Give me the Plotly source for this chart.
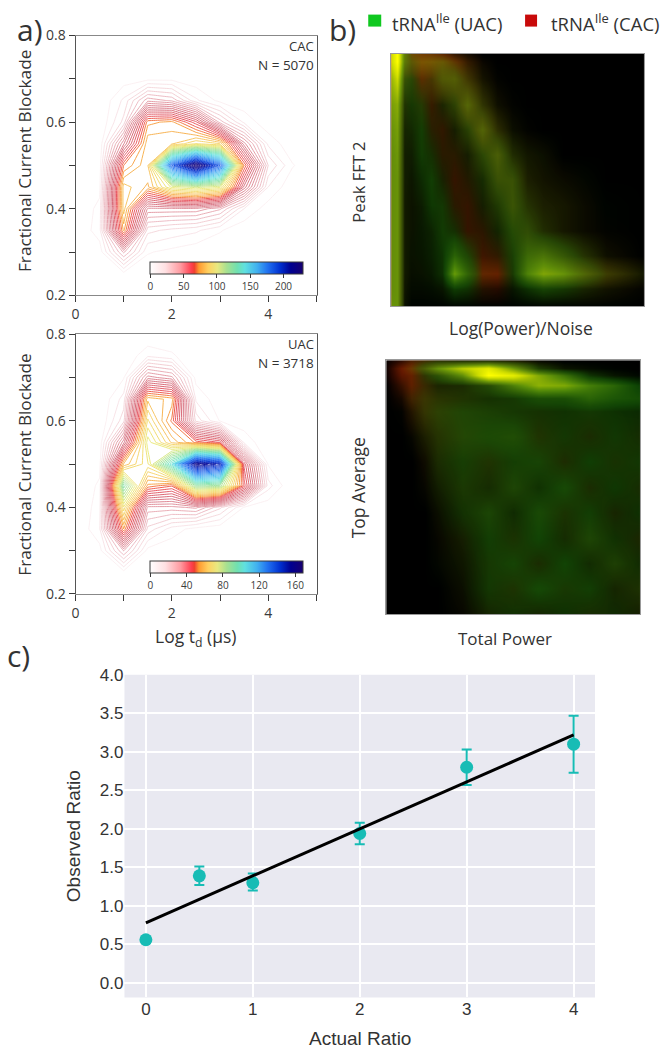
import plotly.graph_objects as go

W, H = 667, 1050

# ---------- panel a: 2D event histograms ----------
log_td = [0, 0.5, 1, 1.5, 2, 2.5, 3, 3.5, 4, 4.5, 5]
blockade = [0.2, 0.25, 0.3, 0.35, 0.4, 0.45, 0.5, 0.55, 0.6, 0.65, 0.7, 0.75, 0.8]
counts_cac = [
    [0, 0, 0, 0, 0, 0, 0, 0, 0, 0, 0],
    [0, 0, 3, 0.5, 0, 0, 0, 0, 0, 0, 0],
    [0, 2, 28, 5, 3, 1, 0.5, 0, 0, 0, 0],
    [0, 7, 78, 15, 12, 10, 5, 1, 0, 0, 0],
    [0, 6, 88, 35, 35, 35, 28, 9, 2, 0, 0],
    [0, 3, 88, 80, 105, 110, 105, 48, 9, 1, 0],
    [0, 2, 72, 85, 185, 228, 185, 72, 18, 5, 0],
    [0, 1, 40, 85, 85, 95, 90, 38, 8, 1, 0],
    [0, 0, 15, 75, 78, 60, 25, 8, 1, 0, 0],
    [0, 0, 10, 30, 26, 10, 3, 1, 0, 0, 0],
    [0, 0, 2, 3, 3, 1, 0, 0, 0, 0, 0],
    [0, 0, 0, 0, 0, 0, 0, 0, 0, 0, 0],
    [0, 0, 0, 0, 0, 0, 0, 0, 0, 0, 0],
]
counts_uac = [
    [0, 0, 0, 0, 0, 0, 0, 0, 0, 0, 0],
    [0, 0, 2, 0, 0, 0, 0, 0, 0, 0, 0],
    [0, 2, 20, 2, 1, 0, 0, 0, 0, 0, 0],
    [0, 6, 56, 12, 5, 2, 1, 0, 0, 0, 0],
    [0, 5, 72, 22, 22, 24, 14, 3, 1, 0, 0],
    [0, 4, 95, 55, 50, 90, 88, 48, 8, 0, 0],
    [0, 2, 60, 72, 105, 160, 150, 42, 3, 0, 0],
    [0, 1, 32, 78, 62, 52, 46, 6, 0, 0, 0],
    [0, 0, 12, 70, 52, 12, 3, 1, 0, 0, 0],
    [0, 0, 8, 62, 58, 6, 1, 0, 0, 0, 0],
    [0, 0, 3, 28, 24, 2, 0, 0, 0, 0, 0],
    [0, 0, 0, 6, 4, 0, 0, 0, 0, 0, 0],
    [0, 0, 0, 0, 0, 0, 0, 0, 0, 0, 0],
]
cbar_ticks_cac = [0, 50, 100, 150, 200]
cbar_ticks_uac = [0, 40, 80, 120, 160]

# ---------- panel b: red / green intensity maps ----------
b1_u = [0, .025, .05, .08, .12, .16, .2, .25, .3, .36, .42, .48, .54, .6, .68, .76, .85, 1]
b1_v = [0, .03, .1, .2, .3, .4, .5, .6, .7, .8, .87, .93, 1]
b1_green = [
    [80, 100, 40, 14, 10, 10, 8, 5, 3, 0, 0, 0, 0, 0, 0, 0, 0, 0],
    [80, 100, 38, 20, 14, 16, 18, 12, 6, 2, 0, 0, 0, 0, 0, 0, 0, 0],
    [65, 80, 25, 20, 10, 14, 24, 26, 14, 5, 1, 0, 0, 0, 0, 0, 0, 0],
    [55, 60, 14, 16, 16, 6, 10, 18, 30, 14, 4, 1, 0, 0, 0, 0, 0, 0],
    [50, 55, 10, 11, 18, 8, 5, 8, 18, 30, 12, 4, 1, 0, 0, 0, 0, 0],
    [48, 52, 8, 8, 17, 13, 6, 6, 8, 20, 30, 12, 6, 4, 0, 0, 0, 0],
    [48, 50, 8, 6, 12, 18, 9, 4, 6, 12, 24, 24, 8, 5, 3, 2, 0, 0],
    [48, 50, 7, 5, 8, 16, 16, 6, 4, 8, 16, 26, 14, 8, 6, 3, 1, 0],
    [48, 50, 7, 5, 7, 10, 17, 13, 4, 5, 10, 22, 22, 12, 6, 3, 1, 0],
    [48, 50, 7, 5, 6, 9, 15, 34, 20, 4, 6, 18, 36, 40, 28, 14, 4, 0],
    [48, 50, 7, 4, 5, 7, 14, 56, 34, 8, 6, 16, 46, 60, 52, 34, 16, 6],
    [48, 50, 6, 3, 3, 4, 6, 18, 14, 4, 2, 6, 14, 20, 16, 10, 5, 1],
    [50, 50, 5, 1, 1, 1, 1, 1, 1, 1, 1, 1, 1, 1, 1, 1, 1, 0],
]
b1_red = [
    [80, 95, 55, 50, 45, 40, 30, 15, 6, 0, 0, 0, 0, 0, 0, 0, 0, 0],
    [80, 95, 50, 50, 60, 60, 55, 35, 15, 3, 0, 0, 0, 0, 0, 0, 0, 0],
    [65, 75, 20, 15, 30, 25, 40, 42, 22, 6, 1, 0, 0, 0, 0, 0, 0, 0],
    [52, 58, 10, 6, 12, 16, 8, 16, 44, 16, 4, 1, 0, 0, 0, 0, 0, 0],
    [48, 52, 6, 5, 5, 12, 14, 6, 14, 40, 14, 3, 1, 0, 0, 0, 0, 0],
    [46, 50, 5, 4, 4, 6, 12, 12, 6, 16, 30, 10, 5, 3, 0, 0, 0, 0],
    [46, 50, 5, 3, 3, 4, 7, 15, 10, 6, 22, 22, 8, 5, 3, 1, 0, 0],
    [46, 50, 5, 3, 3, 3, 5, 12, 15, 6, 10, 22, 12, 8, 6, 3, 0, 0],
    [46, 50, 5, 3, 2, 3, 4, 6, 15, 12, 5, 12, 18, 10, 6, 3, 1, 0],
    [46, 50, 5, 2, 2, 2, 3, 5, 10, 18, 14, 8, 16, 22, 18, 12, 4, 0],
    [46, 50, 5, 2, 2, 2, 3, 6, 10, 30, 30, 8, 14, 28, 34, 34, 22, 5],
    [46, 50, 4, 1, 1, 1, 2, 3, 4, 10, 10, 2, 3, 6, 6, 7, 5, 1],
    [48, 50, 3, 0, 0, 0, 0, 0, 0, 0, 0, 0, 0, 0, 0, 0, 0, 0],
]
b2_u = [0, .06, .1, .15, .2, .3, .4, .5, .6, .7, .8, .9, 1]
b2_v = [0, .03, .06, .1, .15, .2, .3, .4, .5, .6, .7, .8, .9, 1]
b2_green = [
    [0, 2, 6, 10, 12, 10, 10, 6, 2, 0, 0, 0, 0],
    [0, 4, 10, 30, 50, 75, 90, 55, 18, 6, 3, 1, 0],
    [0, 3, 6, 14, 25, 50, 100, 90, 62, 40, 15, 6, 2],
    [0, 3, 6, 10, 10, 12, 22, 45, 65, 62, 45, 35, 18],
    [0, 2, 8, 14, 14, 14, 14, 16, 24, 25, 34, 28, 24],
    [0, 1, 5, 14, 18, 20, 18, 16, 14, 14, 16, 14, 12],
    [0, 0, 2, 8, 14, 20, 22, 24, 14, 16, 12, 16, 12],
    [0, 0, 0, 3, 12, 18, 14, 18, 20, 12, 18, 14, 16],
    [0, 0, 0, 2, 8, 16, 12, 20, 14, 22, 12, 16, 12],
    [0, 0, 0, 0, 4, 14, 20, 12, 22, 14, 18, 10, 14],
    [0, 0, 0, 0, 2, 8, 18, 14, 20, 12, 20, 14, 10],
    [0, 0, 0, 0, 2, 6, 16, 20, 12, 20, 12, 18, 12],
    [0, 0, 0, 0, 0, 4, 16, 14, 22, 16, 18, 10, 14],
    [0, 0, 0, 0, 0, 2, 10, 14, 10, 14, 12, 12, 8],
]
b2_red = [
    [2, 12, 22, 20, 14, 10, 10, 8, 2, 0, 0, 0, 0],
    [4, 30, 40, 30, 40, 55, 70, 40, 10, 3, 1, 0, 0],
    [3, 25, 30, 16, 14, 25, 70, 55, 25, 10, 4, 2, 0],
    [0, 15, 28, 18, 8, 8, 12, 16, 14, 8, 6, 3, 1],
    [0, 6, 20, 20, 14, 10, 6, 6, 5, 4, 4, 2, 2],
    [0, 1, 10, 18, 16, 10, 8, 6, 6, 4, 5, 3, 2],
    [0, 0, 2, 8, 12, 12, 7, 8, 10, 5, 8, 4, 6],
    [0, 0, 0, 4, 8, 6, 10, 5, 6, 9, 3, 7, 4],
    [0, 0, 0, 2, 5, 8, 6, 9, 4, 5, 8, 3, 7],
    [0, 0, 0, 0, 3, 5, 8, 4, 6, 8, 4, 7, 3],
    [0, 0, 0, 0, 2, 6, 4, 8, 3, 6, 9, 4, 8],
    [0, 0, 0, 0, 1, 4, 6, 5, 8, 3, 5, 9, 4],
    [0, 0, 0, 0, 0, 3, 5, 9, 4, 7, 4, 6, 9],
    [0, 0, 0, 0, 0, 2, 6, 4, 6, 3, 7, 4, 6],
]

# ---------- panel c: observed vs actual ratio ----------
actual = [0, 0.5, 1, 2, 3, 4]
observed = [0.56, 1.39, 1.30, 1.94, 2.80, 3.10]
err_up = [0.04, 0.12, 0.12, 0.14, 0.23, 0.37]
err_down = [0.04, 0.12, 0.10, 0.14, 0.23, 0.37]
fit_x = [0, 4]
fit_y = [0.78, 3.22]

# ---------- styling ----------
INK = "#3a3a3a"
SANS = "Open Sans"
RAINBOW = [
    [0.00, "#ffffff"], [0.10, "#ffe0e2"], [0.20, "#ff9aa0"], [0.27, "#ff4050"],
    [0.29, "#f04030"], [0.32, "#ff9a30"], [0.38, "#ffd060"], [0.44, "#e8e880"],
    [0.50, "#a8e090"], [0.57, "#70e0b0"], [0.62, "#60e0e0"], [0.70, "#40b0f0"],
    [0.77, "#2070f0"], [0.85, "#0030d0"], [0.92, "#000090"], [1.00, "#180070"],
]
LINE_SCALE = [
    [0.00, "#fbeef0"], [0.06, "#f0c8ce"], [0.13, "#de8a96"], [0.20, "#d25a6a"],
    [0.27, "#e8404a"], [0.29, "#f05030"], [0.32, "#f79a35"], [0.38, "#f5d060"],
    [0.44, "#e8e870"], [0.50, "#a8e090"], [0.57, "#70e0b0"], [0.62, "#60e0e0"],
    [0.70, "#40b0f0"], [0.77, "#2070f0"], [0.85, "#0030d0"], [0.92, "#000090"],
    [1.00, "#180070"],
]
RED_SCALE = [[0, "rgb(0,0,0)"], [0.3, "rgb(115,15,0)"], [1, "rgb(255,110,0)"]]
GREEN_SCALE = [
    [0, "rgba(10,150,0,0)"], [0.2, "rgba(25,140,10,0.48)"],
    [0.5, "rgba(95,165,10,0.85)"], [0.8, "rgba(205,225,0,0.97)"],
    [1, "rgb(255,255,0)"],
]


def fx(px):
    return (px - 3.4) / 0.995 / W


def fy(px):
    return 1 - (px - 9.4) / 0.983 / H


fig = go.Figure()


def add_hist(z, n, cmax, step, ticks, cb_top):
    fig.add_trace(go.Contour(
        x=log_td, y=blockade, z=z, xaxis=f"x{n}", yaxis=f"y{n}",
        zmin=0, zmax=cmax, colorscale=LINE_SCALE, showscale=False,
        autocontour=False, contours=dict(start=step, end=cmax, size=step, coloring="lines"),
        line=dict(width=0.9, smoothing=0), hoverinfo="skip", showlegend=False,
    ))
    fig.add_trace(go.Scatter(
        x=[None], y=[None], xaxis=f"x{n}", yaxis=f"y{n}", mode="markers", showlegend=False,
        marker=dict(
            color=[0, cmax], cmin=0, cmax=cmax, colorscale=RAINBOW, showscale=True,
            colorbar=dict(
                orientation="h", xref="paper", yref="paper", x=fx(150), xanchor="left",
                y=fy(cb_top), yanchor="top", len=153, lenmode="pixels",
                thickness=12, thicknessmode="pixels", xpad=0, ypad=0,
                tickvals=ticks, ticks="outside", ticklen=4, tickcolor=INK,
                outlinecolor=INK, outlinewidth=1, borderwidth=0,
                tickfont=dict(family=SANS, size=10, color=INK),
            ),
        ),
    ))


add_hist(counts_cac, 1, 230, 4.5, cbar_ticks_cac, 262)
add_hist(counts_uac, 2, 169, 3.3, cbar_ticks_uac, 561)


def add_map(u, v, red, green, n):
    common = dict(x=u, y=v, xaxis=f"x{n}", yaxis=f"y{n}", zmin=0, zmax=100,
                  zsmooth="best", showscale=False, hoverinfo="skip")
    fig.add_trace(go.Heatmap(z=red, colorscale=RED_SCALE, **common))
    fig.add_trace(go.Heatmap(z=green, colorscale=GREEN_SCALE, **common))


add_map(b1_u, b1_v, b1_red, b1_green, 3)
add_map(b2_u, b2_v, b2_red, b2_green, 4)

fig.add_trace(go.Scatter(
    x=actual, y=observed, xaxis="x5", yaxis="y5", mode="markers", showlegend=False,
    marker=dict(size=13, color="#17bcb5"),
    error_y=dict(type="data", symmetric=False, array=err_up, arrayminus=err_down,
                 color="#17bcb5", thickness=2, width=5),
))
fig.add_trace(go.Scatter(
    x=fit_x, y=fit_y, xaxis="x5", yaxis="y5", mode="lines", showlegend=False,
    line=dict(color="black", width=3),
))


def a_xaxis(domain):
    return dict(domain=domain, range=[0, 5.02], tickvals=[0, 2, 4], ticks="outside", ticklen=6,
                tickcolor=INK, minor=dict(tickvals=[1, 3, 5], ticks="outside", ticklen=6, tickcolor=INK),
                showgrid=False, zeroline=False, showline=True, linecolor="#888", mirror=True,
                linewidth=1, tickfont=dict(family=SANS, size=14, color=INK))


def a_yaxis(domain):
    return dict(domain=domain, range=[0.2, 0.8], tickvals=[.2, .4, .6, .8], tickformat=".1f",
                ticks="outside", ticklen=6, tickcolor=INK,
                minor=dict(tickvals=[.3, .5, .7], ticks="outside", ticklen=6, tickcolor=INK),
                showgrid=False, zeroline=False, showline=True, linecolor="#555",
                mirror=True, linewidth=1, tickfont=dict(family=SANS, size=14, color=INK))


def map_axis(domain, rng):
    return dict(domain=domain, range=rng, showticklabels=False, ticks="", showgrid=False,
                zeroline=False, showline=True, linecolor="#999", mirror=True, linewidth=1)


axes = dict(
    xaxis=dict(a_xaxis([fx(75), fx(317)]), anchor="y"),
    yaxis=dict(a_yaxis([fy(295), fy(35)]), anchor="x"),
    xaxis2=dict(a_xaxis([fx(75), fx(317)]), anchor="y2"),
    yaxis2=dict(a_yaxis([fy(594), fy(334)]), anchor="x2"),
    xaxis3=dict(map_axis([fx(391), fx(644)], [0, 1]), anchor="y3"),
    yaxis3=dict(map_axis([fy(306), fy(53)], [1, 0]), anchor="x3"),
    xaxis4=dict(map_axis([fx(386), fx(640)], [0, 1]), anchor="y4"),
    yaxis4=dict(map_axis([fy(614), fy(360)], [1, 0]), anchor="x4"),
    xaxis5=dict(domain=[fx(124), fx(595)], range=[-0.2, 4.2], anchor="y5",
                tickvals=[0, 1, 2, 3, 4], showgrid=True, gridcolor="white", gridwidth=1.5,
                zeroline=False, showline=False, ticks="",
                tickfont=dict(family="Liberation Sans", size=17, color="#333")),
    yaxis5=dict(domain=[fy(998), fy(675)], range=[-0.19, 4.0], anchor="x5",
                tickvals=[0, .5, 1, 1.5, 2, 2.5, 3, 3.5, 4], tickformat=".1f",
                showgrid=True, gridcolor="white", gridwidth=1.5, zeroline=False, showline=False,
                ticks="", tickfont=dict(family="Liberation Sans", size=17, color="#333")),
)


def label(px, py, text, size=17, rot=0, anchor="center", family=SANS, color="#333"):
    return dict(x=fx(px), y=fy(py), xref="paper", yref="paper", text=text, showarrow=False,
                textangle=rot, xanchor=anchor, yanchor="middle",
                font=dict(family=family, size=size, color=color))


annos = [
    label(14, 29, "a)", 30, anchor="left"),
    label(327, 29, "b)", 30, anchor="left"),
    label(4, 656, "c)", 30, anchor="left"),
    label(24, 161, "Fractional Current Blockade", 17.2, -90),
    label(24, 465, "Fractional Current Blockade", 17.2, -90),
    label(316, 45, "CAC", 13, anchor="right"),
    label(316, 64, "N = 5070", 13.5, anchor="right"),
    label(316, 344, "UAC", 13, anchor="right"),
    label(316, 363, "N = 3718", 13.5, anchor="right"),
    label(195, 638, "Log t<sub>d</sub> (µs)", 17.5),
    label(358, 182, "Peak FFT 2", 16.5, -90),
    label(521, 328, "Log(Power)/Noise", 17.5),
    label(358, 488, "Top Average", 17.5, -90),
    label(505, 639, "Total Power", 17),
    label(390, 22, "tRNA<sup>Ile</sup> (UAC)", 18.5, anchor="left"),
    label(549, 22, "tRNA<sup>Ile</sup> (CAC)", 18.5, anchor="left"),
    label(73, 837, "Observed Ratio", 19, -90, family="Liberation Sans"),
    label(360, 1039, "Actual Ratio", 19, family="Liberation Sans"),
]

shapes = [
    dict(type="rect", xref="paper", yref="paper", x0=fx(368), x1=fx(381), y0=fy(26), y1=fy(14),
         fillcolor="#10c820", line_width=0),
    dict(type="rect", xref="paper", yref="paper", x0=fx(525), x1=fx(537), y0=fy(26), y1=fy(14),
         fillcolor="#c80a0a", line_width=0),
    dict(type="rect", xref="x5 domain", yref="y5 domain", x0=0, x1=1, y0=0, y1=1,
         fillcolor="#e9e9f1", line_width=0, layer="below"),
]

fig.update_layout(
    width=W, height=H, autosize=False, margin=dict(l=0, r=0, t=0, b=0),
    paper_bgcolor="white", plot_bgcolor="white",
    annotations=annos, shapes=shapes, **axes,
)
fig.write_html("out.html", config=dict(displayModeBar=False),
               post_script="document.body.style.margin='0';")
